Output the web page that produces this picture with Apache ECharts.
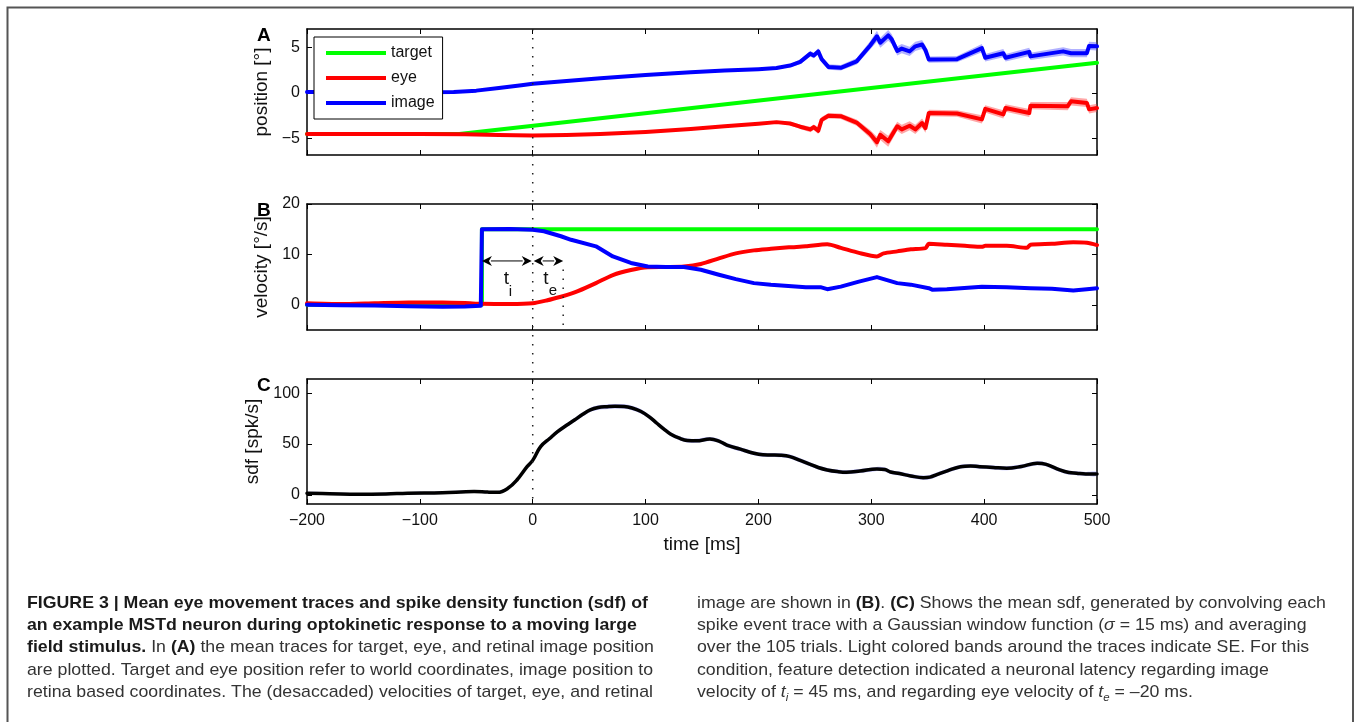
<!DOCTYPE html>
<html><head><meta charset="utf-8">
<script src="https://cdn.jsdelivr.net/npm/echarts@6/dist/echarts.min.js"></script>
<style>html,body{margin:0;padding:0;background:#fff}#c{width:1356px;height:722px}</style>
</head><body><div id="c"></div>
<script>
// ---------- tick values ----------
const X_TICKS = [-200, -100, 0, 100, 200, 300, 400, 500];
const A_TICKS = [-5, 0, 5];
const B_TICKS = [0, 10, 20];
const C_TICKS = [0, 50, 100];

// ---------- panel A : position ----------
const A_TARGET_T = [-200, -65, 500];
const A_TARGET_V = [-4.5, -4.5, 3.3];
const A_EYE_T = [-200,-100,-60,-30,0,30,60,100,140,170,200,216,228,237,246,249,253,256,262,273,287,299,305,308,315,323,327,334,339,345,348,351,376,398,401,417,419,440,441,474,477,491,493,500];
const A_EYE_V = [-4.5,-4.5,-4.52,-4.6,-4.66,-4.62,-4.5,-4.27,-3.95,-3.65,-3.38,-3.2,-3.35,-3.7,-4.0,-3.75,-4.15,-2.95,-2.5,-2.55,-3.25,-4.5,-5.4,-4.6,-5.3,-3.65,-4.0,-3.6,-4.0,-3.3,-3.85,-2.2,-2.25,-2.9,-1.75,-2.35,-1.65,-2.2,-1.4,-1.45,-0.92,-1.1,-1.8,-1.65];
const A_EYE_SE = [0.08,0.08,0.08,0.08,0.08,0.08,0.08,0.08,0.08,0.08,0.08,0.12,0.18,0.25,0.3,0.3,0.35,0.3,0.3,0.3,0.35,0.45,0.6,0.55,0.6,0.5,0.5,0.5,0.5,0.5,0.5,0.35,0.35,0.45,0.4,0.45,0.4,0.45,0.4,0.45,0.45,0.45,0.45,0.45];
const A_IMG_T = [-200,-100,-70,-50,-30,-10,0,30,60,100,140,170,200,216,228,237,246,249,253,256,262,273,287,299,305,308,315,318,323,327,334,339,345,348,351,376,398,401,417,419,440,441,470,477,491,493,500];
const A_IMG_V = [0.1,0.08,0.1,0.25,0.55,0.85,1.0,1.3,1.6,1.95,2.25,2.45,2.6,2.72,3.0,3.4,4.3,4.1,4.55,3.7,2.85,2.75,3.45,5.2,6.2,5.5,6.3,5.9,4.6,4.85,4.55,5.1,5.3,4.7,3.65,3.7,4.9,3.85,4.35,3.85,4.5,4.0,4.55,4.35,4.35,5.15,5.1];
const A_IMG_SE = [0.08,0.08,0.08,0.08,0.08,0.08,0.08,0.08,0.08,0.08,0.08,0.08,0.08,0.12,0.18,0.25,0.3,0.3,0.35,0.3,0.3,0.3,0.35,0.45,0.6,0.55,0.6,0.55,0.5,0.5,0.5,0.5,0.5,0.5,0.35,0.35,0.45,0.4,0.45,0.4,0.45,0.4,0.45,0.45,0.45,0.45,0.45];

// ---------- panel B : velocity ----------
const B_TARGET_T = [-200, -45, -45, 500];
const B_TARGET_V = [0, 0, 15, 15];
const B_EYE_T = [-200,-170,-140,-110,-80,-60,-45,-20,0,13,25,34,40,56,71,87,102,118,134,149,165,180,196,211,227,242,261,273,289,305,311,323,335,348,351,367,383,398,401,420,438,441,460,479,491,500];
const B_EYE_V = [0.3,0.15,0.3,0.45,0.45,0.35,0.2,0.15,0.3,0.9,1.6,2.2,2.7,4.3,5.9,6.9,7.45,7.5,7.6,8.1,9.2,10.2,10.8,11.1,11.4,11.6,12.0,11.3,10.3,9.6,10.2,10.6,11.0,11.25,12.1,11.9,11.7,11.5,11.7,11.7,11.3,11.9,12.1,12.4,12.3,11.85];
const B_IMG_T = [-200,-170,-140,-110,-80,-60,-46,-45,-20,0,10,25,34,56,71,87,102,118,134,149,165,180,196,211,242,255,261,273,289,305,311,323,335,351,354,367,398,420,441,460,479,491,500];
const B_IMG_V = [0.0,-0.1,-0.15,-0.3,-0.4,-0.35,-0.2,15.0,15.05,14.9,14.6,13.6,12.9,11.6,9.6,8.3,7.6,7.5,7.5,6.95,5.96,5.1,4.3,3.97,3.5,3.5,3.1,3.6,4.6,5.5,5.1,4.3,4.0,3.3,3.0,3.1,3.6,3.5,3.3,3.2,2.85,3.1,3.3];
// latency markers (ms) and arrow level (deg/s)
const LAT_T = [-45, 0, 27];
const ARROW_V = 8.7;
const TE_LINE_T = [27, 27];
const TE_LINE_V = [7, -5];

// ---------- panel C : sdf ----------
const C_T = [-200,-180,-155,-130,-111,-80,-52,-40,-31,-22,-14,-5,0,7,15,22,30,37,44,51,58,66,73,81,88,96,103,110,116,122,130,137,145,157,165,172,184,196,204,211,220,228,237,246,253,261,270,278,290,305,312,317,325,335,346,352,358,368,379,388,396,408,420,433,447,455,467,475,482,490,500];
const C_V = [1.7,1.3,0.7,1.0,1.7,2.2,3.3,2.8,2.6,6.5,14.7,27.8,34,47.5,55.5,62.2,68.5,73.7,79,83.6,86,86.8,87.2,87,85.5,82,77,70.5,65,60,55.8,53.5,53.2,55,53,49,45,41,39.5,39.3,39,37.7,34,30,27,24.6,23,22.3,23.5,25.6,25,22.6,21,18.7,17,17.5,20,24,27.8,28.5,27.8,27,26.2,28,31.1,30,24.6,22,21.3,20.6,20.6];
const C_SE = [1.2,1.2,1.2,1.2,1.2,1.2,1.2,1.2,1.2,1.4,1.6,1.8,2,2,2,2,2,2,2,2,2.2,2.2,2.2,2.2,2.2,2.2,2,2,2,2,2,2,2,2,2,2,2,2,2,2,2,2,2,2,2,2,2,2,2,2,2,2,2,2,2,2,2,2,2,2,2,2,2,2,2,2,2,2,2,2,2];

const FONT = '"Liberation Sans", Arial, Helvetica, sans-serif';
const RED = '#ff0000', GREEN = '#00ff00', BLUE = '#0000ff';
const fmt = v => v < 0 ? '\u2212' + (-v) : String(v);

const GRIDS = [
  {left: 307, top: 29, width: 790, height: 126},
  {left: 307, top: 204, width: 790, height: 126},
  {left: 307, top: 379, width: 790, height: 125}
];
const Y_RANGES = [[-6.8, 7], [-5, 20], [-8.9, 114]];
const Y_TICKS = [A_TICKS, B_TICKS, C_TICKS];
const Y_NAMES = ['position [\u00b0]', 'velocity [\u00b0/s]', 'sdf [spk/s]'];

function xAxes(g) {
  const base = {gridIndex: g, type: 'value', min: -200, max: 500, interval: 100,
    splitLine: {show: false},
    axisLine: {show: true, onZero: false, lineStyle: {color: '#000', width: 1.5}},
    axisTick: {show: true, inside: true, length: 5, lineStyle: {color: '#000', width: 1}}};
  return [
    Object.assign({}, base, {position: 'bottom',
      axisLabel: {show: g === 2, fontSize: 16, color: '#111', fontFamily: FONT, margin: 9, formatter: fmt},
      name: g === 2 ? 'time [ms]' : '', nameLocation: 'middle', nameGap: 31,
      nameTextStyle: {fontSize: 19, color: '#111', fontFamily: FONT}}),
    Object.assign({}, base, {position: 'top', axisLabel: {show: false}})
  ];
}
function yAxes(g) {
  const ticks = Y_TICKS[g];
  const base = {gridIndex: g, type: 'value', min: Y_RANGES[g][0], max: Y_RANGES[g][1],
    splitLine: {show: false},
    axisLine: {show: true, onZero: false, lineStyle: {color: '#000', width: 1.5}},
    axisTick: {show: true, inside: true, length: 5, customValues: ticks, lineStyle: {color: '#000', width: 1}}};
  return [
    Object.assign({}, base, {position: 'left',
      axisLabel: {show: true, customValues: ticks, fontSize: 16, color: '#111', fontFamily: FONT, margin: 7, formatter: fmt},
      name: Y_NAMES[g], nameLocation: 'middle', nameGap: 34,
      nameTextStyle: {fontSize: 19, color: '#111', fontFamily: FONT}}),
    Object.assign({}, base, {position: 'right', axisLabel: {show: false}})
  ];
}
function zip(ts, vs) { return ts.map((t, i) => [t, vs[i]]); }
function line(name, g, ts, vs, color, w, z, extra) {
  return Object.assign({name: name, type: 'line', xAxisIndex: 2 * g, yAxisIndex: 2 * g,
    data: zip(ts, vs), showSymbol: false, symbol: 'none', animation: false, z: z || 3,
    lineStyle: {color: color, width: w, join: 'round', cap: 'round'}, itemStyle: {color: color},
    emphasis: {disabled: true}, silent: true}, extra || {});
}
function band(g, ts, vs, se, color) {
  return {type: 'custom', xAxisIndex: 2 * g, yAxisIndex: 2 * g, silent: true, z: 2, animation: false,
    data: [[ts[0], vs[0]]],
    renderItem: function (params, api) {
      const pts = [];
      for (let i = 0; i < ts.length; i++) pts.push(api.coord([ts[i], vs[i] + se[i]]));
      for (let i = ts.length - 1; i >= 0; i--) pts.push(api.coord([ts[i], vs[i] - se[i]]));
      return {type: 'polygon', shape: {points: pts, smooth: g === 2 ? 0.3 : 0}, style: {fill: color}};
    }};
}

const xAxis = [].concat(xAxes(0), xAxes(1), xAxes(2));
const yAxis = [].concat(yAxes(0), yAxes(1), yAxes(2));

const series = [
  line('target', 0, A_TARGET_T, A_TARGET_V, GREEN, 4),
  band(0, A_EYE_T, A_EYE_V, A_EYE_SE, 'rgba(255,60,60,0.45)'),
  line('eye', 0, A_EYE_T, A_EYE_V, RED, 4),
  band(0, A_IMG_T, A_IMG_V, A_IMG_SE, 'rgba(60,60,255,0.4)'),
  line('image', 0, A_IMG_T, A_IMG_V, BLUE, 4),
  line('target', 1, B_TARGET_T, B_TARGET_V, GREEN, 4),
  line('eye', 1, B_EYE_T, B_EYE_V, RED, 4, 3, {smooth: 0.25}),
  line('image', 1, B_IMG_T, B_IMG_V, BLUE, 4),
  line('te', 1, TE_LINE_T, TE_LINE_V, '#222', 1.5, 4, {lineStyle: {color: '#222', width: 1.5, type: [1.5, 7.5]}}),
  band(2, C_T, C_V, C_SE, 'rgba(120,120,255,0.5)'),
  line('sdf', 2, C_T, C_V, '#000', 3.5, 3, {smooth: 0.4})
];

const chart = echarts.init(document.getElementById('c'), null, {renderer: 'canvas', width: 1356, height: 722});
chart.setOption({
  animation: false, backgroundColor: '#fff', textStyle: {fontFamily: FONT},
  grid: GRIDS.map(g => Object.assign({containLabel: false}, g)),
  xAxis: xAxis, yAxis: yAxis,
  legend: {show: true, data: ['target', 'eye', 'image'], orient: 'vertical', left: 314, top: 37,
    padding: [8, 8, 8, 12], itemGap: 9, itemWidth: 60, itemHeight: 4, icon: 'rect', z: 20, selectedMode: false,
    backgroundColor: '#fff', borderColor: '#000', borderWidth: 1, borderRadius: 0,
    itemStyle: {borderWidth: 0},
    textStyle: {fontSize: 16, lineHeight: 16, color: '#111', fontFamily: FONT}},
  series: series
});

// ---------- annotations drawn through the axes' scales ----------
const px = (ax, t) => chart.convertToPixel({xAxisIndex: ax}, t);
const py = (ay, v) => chart.convertToPixel({yAxisIndex: ay}, v);
const gfx = [];
// outer frame
gfx.push({type: 'polyline', silent: true, z: 50, shape: {points: [[7.5, 722], [7.5, 7.5], [1353, 7.5], [1353, 722]]},
  style: {stroke: '#555', lineWidth: 2, fill: null}});
// dotted t=0 line through all panels
const x0 = px(0, LAT_T[1]);
gfx.push({type: 'line', silent: true, z: 50, shape: {x1: x0, y1: py(0, Y_RANGES[0][1]), x2: x0, y2: py(4, Y_RANGES[2][0])},
  style: {stroke: '#222', lineWidth: 1.5, lineDash: [1.5, 7.5]}});
// double arrows
const ya = py(2, ARROW_V);
function dblArrow(xa, xb) {
  const h = 10, w = 5, n = 3;
  gfx.push({type: 'line', silent: true, z: 50, shape: {x1: xa + h - 1, y1: ya, x2: xb - h + 1, y2: ya}, style: {stroke: '#000', lineWidth: 1}});
  gfx.push({type: 'polygon', silent: true, z: 50, shape: {points: [[xa, ya], [xa + h, ya - w], [xa + h - n, ya], [xa + h, ya + w]]}, style: {fill: '#000'}});
  gfx.push({type: 'polygon', silent: true, z: 50, shape: {points: [[xb, ya], [xb - h, ya - w], [xb - h + n, ya], [xb - h, ya + w]]}, style: {fill: '#000'}});
}
const xl0 = px(2, LAT_T[0]), xl1 = px(2, LAT_T[1]), xl2 = px(2, LAT_T[2]);
dblArrow(xl0, xl1 - 1);
dblArrow(xl1 + 1, xl2);
function txt(x, y, s, size, extra) {
  return Object.assign({type: 'text', silent: true, z: 50, x: x, y: y,
    style: Object.assign({text: s, fontSize: size, fontFamily: FONT, fill: '#111',
      align: 'center', textAlign: 'center', verticalAlign: 'middle', textVerticalAlign: 'middle'}, extra || {})});
}
const m1 = (xl0 + xl1) / 2, m2 = (xl1 + xl2) / 2;
gfx.push(txt(m1 - 1, ya + 18, 't', 19));
gfx.push(txt(m1 + 3, ya + 31, 'i', 15));
gfx.push(txt(m2 - 2, ya + 18, 't', 19));
gfx.push(txt(m2 + 5, ya + 30, 'e', 15));
// panel letters
['A', 'B', 'C'].forEach((L, g) => {
  gfx.push(txt(257, GRIDS[g].top + 7, L, 19, {fontWeight: 'bold', align: 'left', textAlign: 'left', fill: '#000'}));
});

// ---------- caption ----------
const CAP_LEFT = [
  '{b|FIGURE 3 | Mean eye movement traces and spike density function (sdf) of}',
  '{b|an example MSTd neuron during optokinetic response to a moving large}',
  '{b|field stimulus.} In {b|(A)} the mean traces for target, eye, and retinal image position',
  'are plotted. Target and eye position refer to world coordinates, image position to',
  'retina based coordinates. The (desaccaded) velocities of target, eye, and retinal'
];
const CAP_RIGHT = [
  'image are shown in {b|(B)}. {b|(C)} Shows the mean sdf, generated by convolving each',
  'spike event trace with a Gaussian window function ({i|\u03c3} = 15 ms) and averaging',
  'over the 105 trials. Light colored bands around the traces indicate SE. For this',
  'condition, feature detection indicated a neuronal latency regarding image',
  'velocity of {i|t}{sub|i} = 45 ms, and regarding eye velocity of {i|t}{sub|e} = \u201320 ms.'
];
const CAP_FS = 17;
const mctx = document.createElement('canvas').getContext('2d');
mctx.font = CAP_FS + 'px ' + FONT;
const capScale = 626 / mctx.measureText('are plotted. Target and eye position refer to world coordinates, image position to').width;
const rich = {
  b: {fontSize: CAP_FS, fontFamily: FONT, fontWeight: 'bold', fill: '#1a1a1a', lineHeight: 22},
  i: {fontSize: CAP_FS, fontFamily: FONT, fontStyle: 'italic', fill: '#333', lineHeight: 22},
  sub: {fontSize: 11, fontFamily: FONT, fontStyle: 'italic', fill: '#333', verticalAlign: 'bottom', lineHeight: 12}
};
function capLines(lines, x0c) {
  lines.forEach((s, i) => {
    gfx.push({type: 'text', silent: true, z: 50, x: x0c, y: 603 + i * 22.3, scaleX: capScale,
      style: {text: s, rich: rich, fontSize: CAP_FS, fontFamily: FONT, fill: '#333', lineHeight: 22,
        align: 'left', textAlign: 'left', verticalAlign: 'middle', textVerticalAlign: 'middle'}});
  });
}
capLines(CAP_LEFT, 27);
capLines(CAP_RIGHT, 697);

chart.setOption({graphic: gfx});
</script>
</body></html>
